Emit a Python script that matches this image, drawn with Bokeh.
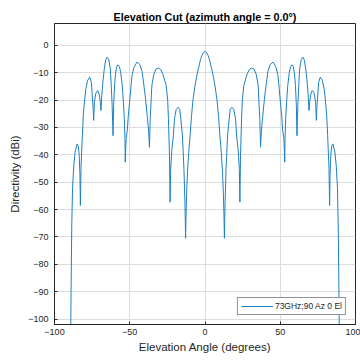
from bokeh.plotting import figure
from bokeh.models import Range1d, FixedTicker, Legend, LegendItem, ColumnDataSource
from bokeh.embed import file_html
from bokeh.resources import INLINE

# Elevation angle (degrees) and directivity (dBi)
angle_deg = [
    -89.6, -89.0, -88.5, -88.0, -87.2, -86.3, -85.0, -84.2, -83.6, -83.1, -82.8,
    -82.4, -81.5, -80.8, -80.1, -79.2, -78.0, -76.6, -75.5, -74.6, -74.2, -74.0,
    -73.5, -72.6, -71.3, -70.3, -69.6, -69.1,
    -68.6, -67.8, -66.9, -66.0, -65.1, -64.0, -62.9, -62.3, -61.7, -61.1,
    -60.7, -60.1, -59.4, -58.6, -57.8, -56.9, -56.0, -55.0, -54.2, -53.6, -53.2, -53.0,
    -52.4, -51.6, -51.0, -50.1, -48.5, -47.2, -45.2, -43.3, -41.8, -40.6, -39.4, -38.2, -37.5, -36.9,
    -36.4, -35.3, -34.0, -32.5, -30.9, -29.3, -27.8, -25.8, -24.8, -24.3, -23.6, -23.2,
    -22.8, -22.0, -21.0, -20.3, -19.2, -17.9, -16.8, -16.1, -15.0, -14.0, -13.3, -12.9,
    -12.6, -12.2, -11.6, -10.8, -9.9, -9.0, -8.0, -6.6, -5.5, -4.4, -3.0, -2.0, -1.0, 0.0,
    1.0, 2.0, 3.0, 4.4, 5.5, 6.6, 8.0, 9.0, 9.9, 10.8, 11.6, 12.2, 12.6,
    12.9, 13.3, 14.0, 15.0, 16.1, 16.8, 17.9, 19.2, 20.3, 21.0, 22.0, 22.8,
    23.2, 23.6, 24.3, 24.8, 25.8, 27.8, 29.3, 30.9, 32.5, 34.0, 35.3, 36.4,
    36.9, 37.5, 38.2, 39.4, 40.6, 41.8, 43.3, 45.2, 47.2, 48.5, 50.1, 51.0, 51.6, 52.4,
    53.0, 53.2, 53.6, 54.2, 55.0, 56.0, 56.9, 57.8, 58.6, 59.4, 60.1, 60.7,
    61.1, 61.7, 62.3, 62.9, 64.0, 65.1, 66.0, 66.9, 67.8, 68.6,
    69.1, 69.6, 70.3, 71.3, 72.6, 73.5,
    74.0, 74.2, 74.6, 75.5, 76.6, 78.0, 79.2, 80.1, 80.8, 81.5, 82.4,
    82.8, 83.1, 83.6, 84.2, 85.0, 86.3, 87.2, 88.0, 88.5, 89.0, 89.6,
]
directivity_dbi = [
    -130, -90, -65, -52, -44, -39, -36, -36.8, -40, -47, -58.5,
    -45, -33, -25, -20.7, -16, -12.8, -11.6, -13.5, -20.7, -24.5, -27.4,
    -21, -17.5, -16.5, -17.8, -20.5, -23.8,
    -18.5, -13, -8.5, -5.4, -4.3, -5.0, -8.5, -14.6, -22, -33,
    -22, -14.6, -10, -7.7, -7.1, -7.7, -10, -14.6, -21, -26.8, -34, -42.7,
    -34, -31, -26, -20.7, -11, -8, -6.1, -7, -9.5, -14.6, -20, -26.8, -31, -37.2,
    -26.8, -14.6, -10.5, -8.6, -8.3, -8.9, -10.8, -14.6, -20, -26.8, -40, -57.3,
    -45, -38, -33, -26.8, -23.5, -22.6, -23.3, -26.8, -33, -45, -58, -70.5,
    -62, -54, -46, -39, -33, -26, -20, -14.6, -11.3, -8.5, -5.2, -3.6, -2.6, -2.2,
    -2.6, -3.6, -5.2, -8.5, -11.3, -14.6, -20, -26, -33, -39, -46, -54, -62,
    -70.5, -58, -45, -33, -26.8, -23.3, -22.6, -23.5, -26.8, -33, -38, -45,
    -57.3, -40, -26.8, -20, -14.6, -10.8, -8.9, -8.3, -8.6, -10.5, -14.6, -26.8,
    -37.2, -31, -26.8, -20, -14.6, -9.5, -7, -6.1, -8, -11, -20.7, -26, -31, -34,
    -42.7, -34, -26.8, -21, -14.6, -10, -7.7, -7.1, -7.7, -10, -14.6, -22,
    -33, -22, -14.6, -8.5, -5.0, -4.3, -5.4, -8.5, -13, -18.5,
    -23.8, -20.5, -17.8, -16.5, -17.5, -21,
    -27.4, -24.5, -20.7, -13.5, -11.6, -12.8, -16, -20.7, -25, -33, -45,
    -58.5, -47, -40, -36.8, -36, -39, -44, -52, -65, -90, -130,
]
x_ticks = [-100, -50, 0, 50, 100]
y_ticks = [-100, -90, -80, -70, -60, -50, -40, -30, -20, -10, 0]
series_label = "73GHz;90 Az 0 El"

FONT = "Liberation Sans"
TXT = "#262626"

p = figure(width=360, height=360, output_backend="svg", toolbar_location=None,
           x_range=Range1d(-100, 100), y_range=Range1d(-102, 8),
           min_border_left=54, min_border_right=5, min_border_top=23, min_border_bottom=36)

p.title.text = "Elevation Cut (azimuth angle = 0.0\u00b0)"
p.title.align = "center"
p.title.text_font = FONT
p.title.text_font_size = "10.8px"
p.title.text_font_style = "bold"
p.title.text_color = "#000000"
p.title.standoff = 2

p.outline_line_color = "#262626"
p.outline_line_width = 1

src = ColumnDataSource(dict(x=angle_deg, y=directivity_dbi))
r = p.line("x", "y", source=src, line_color="#1f80c4", line_width=1)

for ax in (p.xaxis[0], p.yaxis[0]):
    ax.axis_line_color = "#262626"
    ax.major_tick_in = 3
    ax.major_tick_out = 0
    ax.minor_tick_line_color = None
    ax.major_tick_line_color = "#262626"
    ax.major_label_text_font = FONT
    ax.major_label_text_font_size = "9px"
    ax.major_label_text_color = TXT
    ax.axis_label_text_font = FONT
    ax.axis_label_text_font_size = "11.5px"
    ax.axis_label_text_font_style = "normal"
    ax.axis_label_text_color = TXT

p.xaxis.ticker = FixedTicker(ticks=x_ticks)
p.yaxis.ticker = FixedTicker(ticks=y_ticks)
p.xaxis.axis_label = "Elevation Angle (degrees)"
p.yaxis.axis_label = "Directivity (dBi)"
p.xaxis.major_label_standoff = 4
p.yaxis.major_label_standoff = 6
p.xaxis.axis_label_standoff = 3
p.yaxis.axis_label_standoff = 4

p.xgrid.grid_line_color = "#dcdcdc"
p.ygrid.grid_line_color = "#dcdcdc"
p.xgrid.ticker = FixedTicker(ticks=x_ticks)
p.ygrid.ticker = FixedTicker(ticks=y_ticks)

legend = Legend(items=[LegendItem(label=series_label, renderers=[r])],
                location="bottom_right")
legend.label_text_font = FONT
legend.label_text_font_size = "8.5px"
legend.label_text_color = TXT
legend.border_line_color = "#262626"
legend.border_line_width = 1
legend.background_fill_color = "white"
legend.background_fill_alpha = 1
legend.glyph_width = 32
legend.glyph_height = 10
legend.label_height = 10
legend.padding = 3
legend.spacing = 0
legend.margin = 9
legend.label_standoff = 2
p.add_layout(legend, "center")

open("out.html", "w").write(file_html(p, INLINE))
